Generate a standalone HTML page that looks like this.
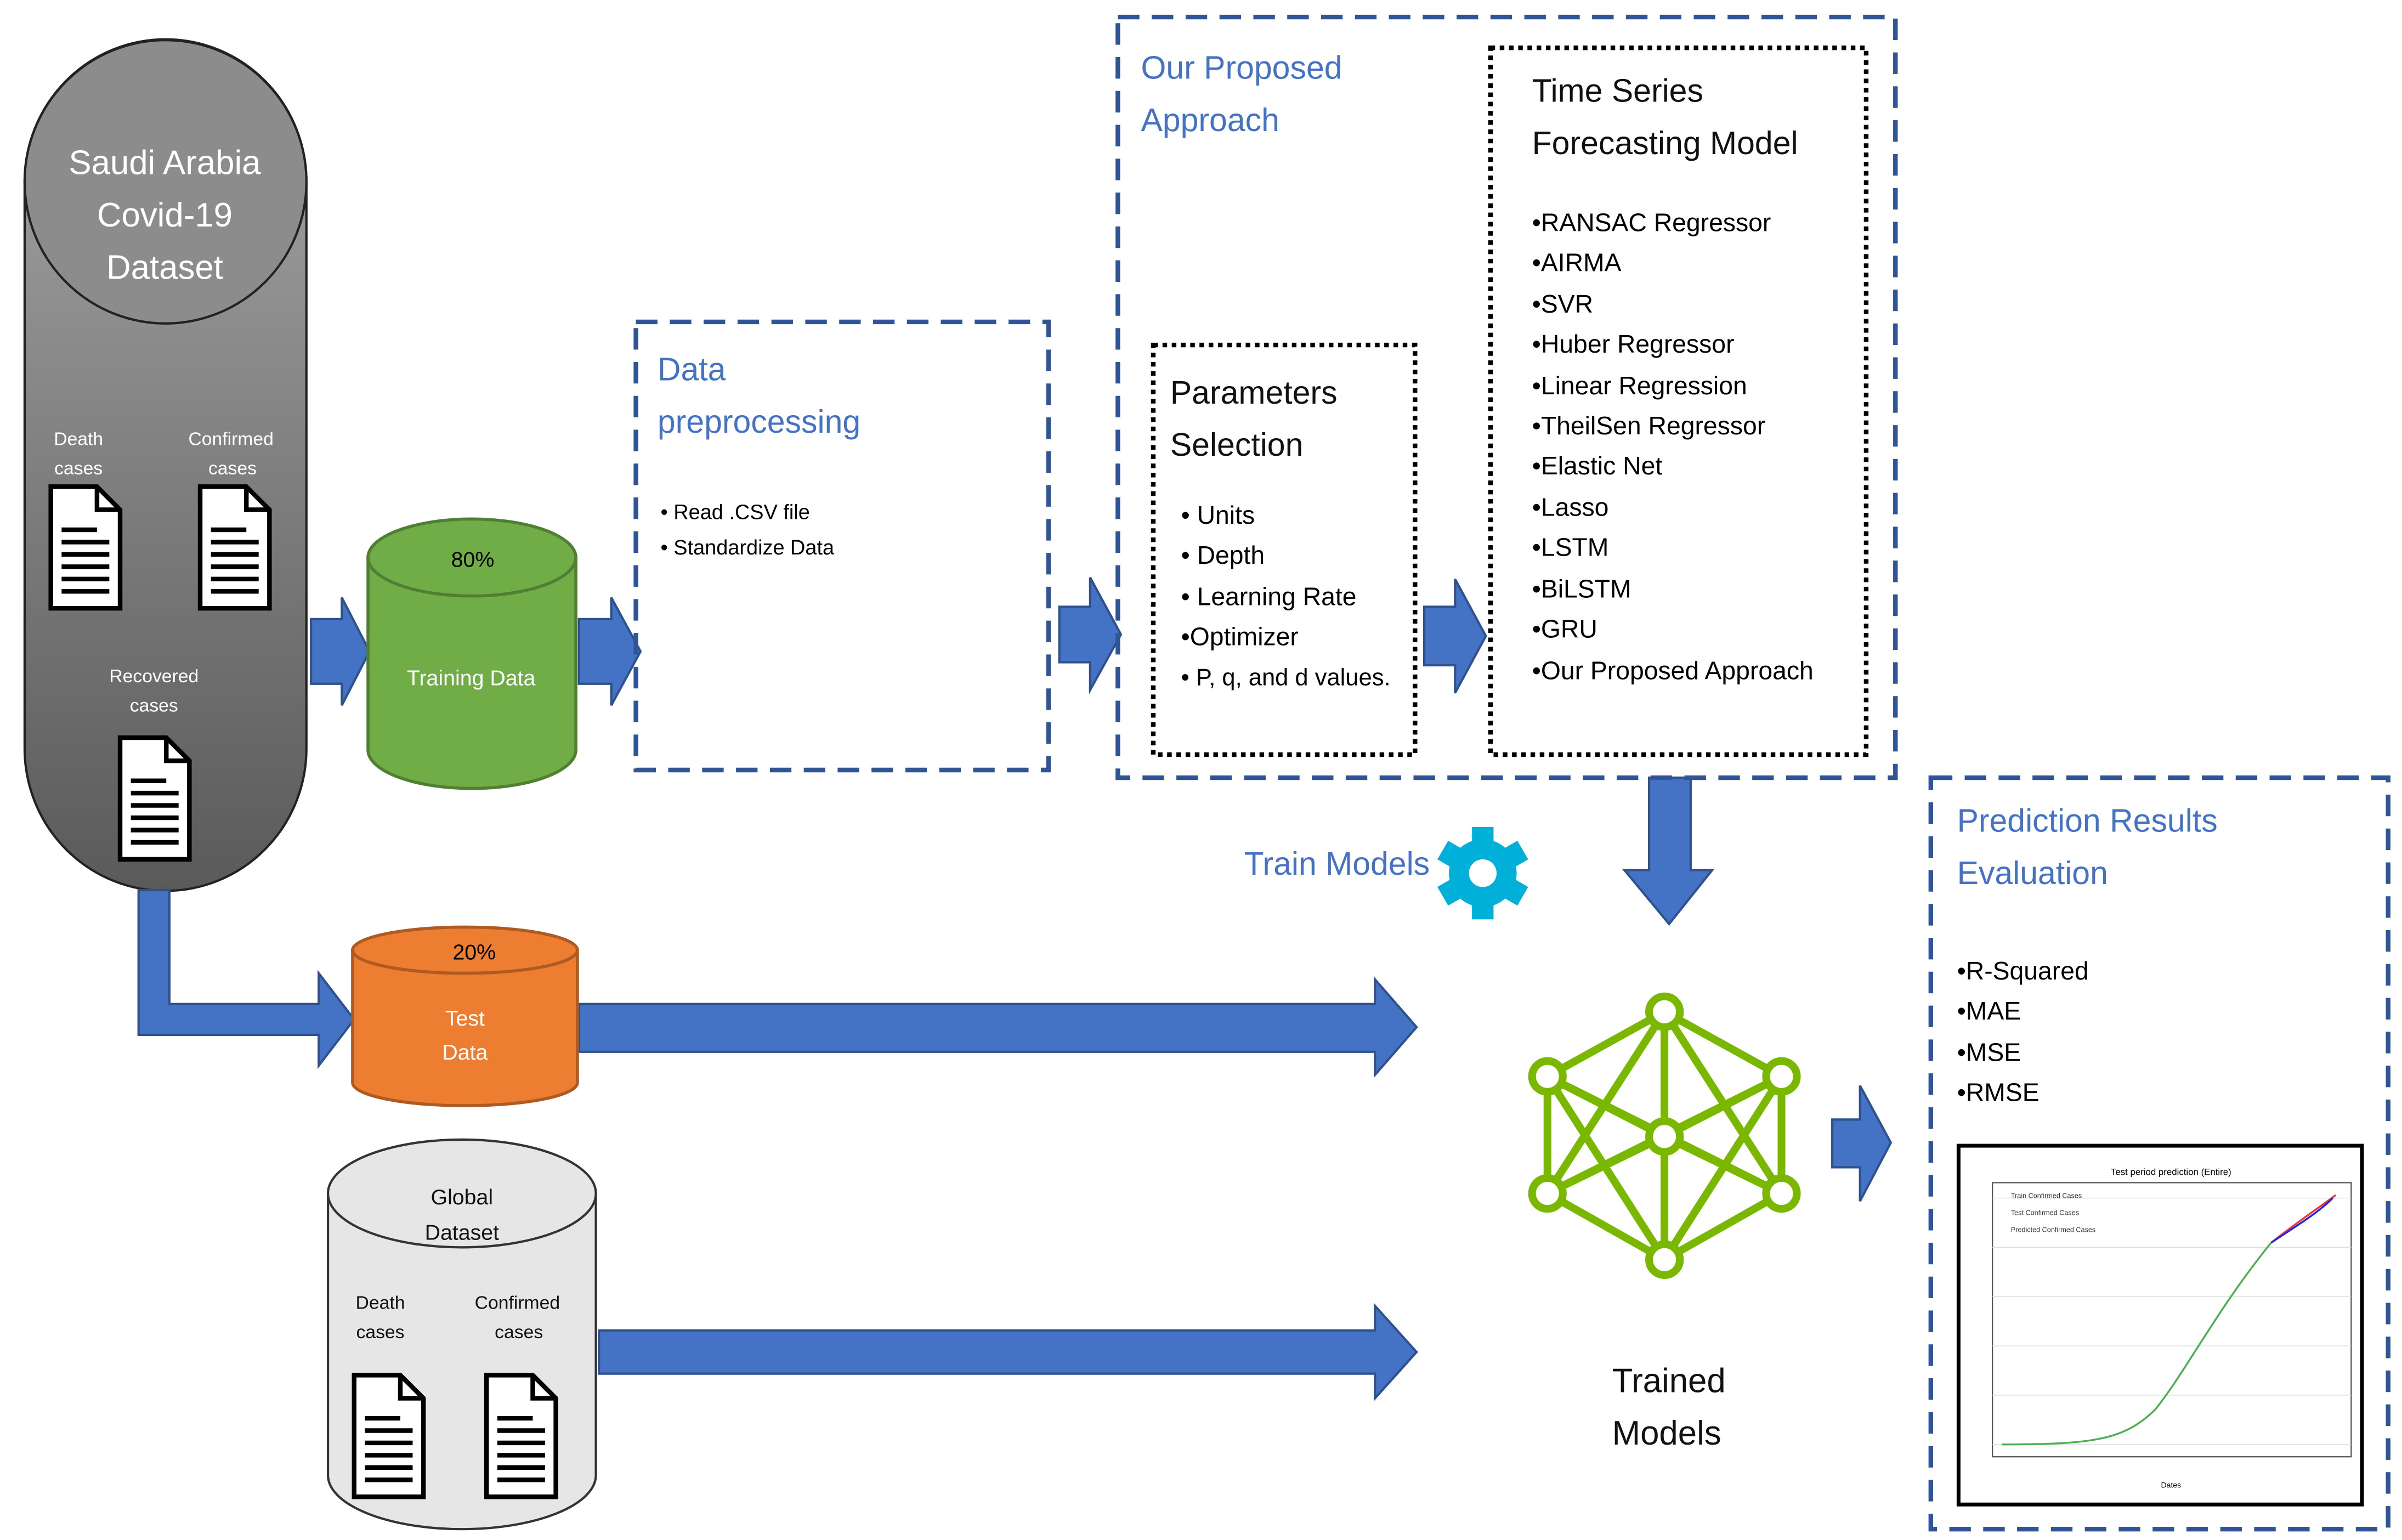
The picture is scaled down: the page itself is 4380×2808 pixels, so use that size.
<!DOCTYPE html>
<html><head><meta charset="utf-8"><style>
html,body{margin:0;padding:0;background:#fff;}
svg{display:block;}
text{font-family:"Liberation Sans Narrow","Liberation Sans",sans-serif;}
</style></head><body>
<svg width="4380" height="2808" viewBox="0 0 1560 1000" xmlns="http://www.w3.org/2000/svg">
<defs>
<linearGradient id="gg" x1="0" y1="0" x2="0" y2="1"><stop offset="0" stop-color="#a6a6a6"/><stop offset="1" stop-color="#5a5a5a"/></linearGradient>
<g id="doc"><path d="M0,0 H30 L45,15 V79 H0 Z" fill="#fff" stroke="#000" stroke-width="3"/><path d="M30,0 V15 H45" fill="none" stroke="#000" stroke-width="3"/>
<g stroke="#000" stroke-width="3"><line x1="7" y1="28" x2="30" y2="28"/><line x1="7" y1="36" x2="38" y2="36"/><line x1="7" y1="44" x2="38" y2="44"/><line x1="7" y1="52" x2="38" y2="52"/><line x1="7" y1="60" x2="38" y2="60"/><line x1="7" y1="68" x2="38" y2="68"/></g></g>
</defs>
<path d="M16,118 A91,92 0 0 1 199,118 V486 A91,92 0 0 1 16,486 Z" fill="url(#gg)" stroke="#222" stroke-width="1.5"/>
<ellipse cx="107.5" cy="118" rx="91.5" ry="92" fill="#8c8c8c" stroke="#222" stroke-width="1.5"/>
<g fill="#fff" font-size="22" text-anchor="middle"><text x="107" y="113">Saudi Arabia</text><text x="107" y="147">Covid-19</text><text x="107" y="181">Dataset</text></g>
<g fill="#fff" font-size="12" text-anchor="middle"><text x="51" y="289">Death</text><text x="51" y="308">cases</text><text x="150" y="289">Confirmed</text><text x="151" y="308">cases</text><text x="100" y="443">Recovered</text><text x="100" y="462">cases</text></g>
<use href="#doc" x="33" y="316"/><use href="#doc" x="130" y="316"/><use href="#doc" x="78" y="479"/>
<g fill="#4472C4" stroke="#2F528F" stroke-width="1.5">
<path d="M202,402 H222 V388 L240,423 L222,458 V444 H202 Z"/>
<path d="M376,402 H397 V388 L416,423 L397,458 V444 H376 Z"/>
<path d="M688,394 H708 V375 L728,412 L708,448 V430 H688 Z"/>
<path d="M925,394 H945 V376 L965,413 L945,450 V432 H925 Z"/>
<path d="M1071,505 H1098 V565 H1112 L1084,600 L1055,565 H1071 Z"/>
<path d="M1190,727 H1208 V705 L1228,742 L1208,780 V758 H1190 Z"/>
<path d="M376,652 H893 V636 L920,667 L893,698 V683 H376 Z"/>
<path d="M389,864 H893 V848 L920,878 L893,908 V892 H389 Z"/>
<path d="M90,578 H110 V652 H207 V632 L230,662 L207,692 V672 H90 Z"/>
</g>
<path d="M239,362 V487 A67.5,25 0 0 0 374,487 V362 Z" fill="#70AD47" stroke="#507E32" stroke-width="2"/>
<ellipse cx="306.5" cy="362" rx="67.5" ry="25" fill="#70AD47" stroke="#507E32" stroke-width="2"/>
<text x="307" y="368" font-size="14" text-anchor="middle">80%</text>
<text x="306" y="445" font-size="14" fill="#fff" text-anchor="middle">Training Data</text>
<path d="M229,617 V703 A73,15 0 0 0 375,703 V617 Z" fill="#ED7D31" stroke="#AE5A21" stroke-width="2"/>
<ellipse cx="302" cy="617" rx="73" ry="15" fill="#ED7D31" stroke="#AE5A21" stroke-width="2"/>
<text x="308" y="623" font-size="14" text-anchor="middle">20%</text>
<text x="302" y="666" font-size="14" fill="#fff" text-anchor="middle">Test</text>
<text x="302" y="688" font-size="14" fill="#fff" text-anchor="middle">Data</text>
<path d="M213,775 V958 A87,35 0 0 0 387,958 V775 Z" fill="#e7e6e6" stroke="#333" stroke-width="1.5"/>
<ellipse cx="300" cy="775" rx="87" ry="35" fill="#e7e6e6" stroke="#333" stroke-width="1.5"/>
<g font-size="14" text-anchor="middle" fill="#111"><text x="300" y="782">Global</text><text x="300" y="805">Dataset</text>
<text x="247" y="850" font-size="12">Death</text><text x="247" y="869" font-size="12">cases</text><text x="336" y="850" font-size="12">Confirmed</text><text x="337" y="869" font-size="12">cases</text></g>
<use href="#doc" x="230" y="893"/><use href="#doc" x="316" y="893"/>
<g fill="none" stroke="#2F5597" stroke-width="3" stroke-dasharray="14,8">
<rect x="413" y="209" width="268" height="291"/>
<rect x="726" y="11" width="505" height="494"/>
<rect x="1254" y="505" width="297" height="488"/>
</g>
<g fill="none" stroke="#000" stroke-width="3" stroke-dasharray="3,3">
<rect x="749" y="224" width="170" height="266"/>
<rect x="968" y="31" width="244" height="459"/>
</g>
<g fill="#4472C4" font-size="21"><text x="427" y="247">Data</text><text x="427" y="281">preprocessing</text>
<text x="741" y="51">Our Proposed</text><text x="741" y="85">Approach</text>
<text x="1271" y="540">Prediction Results</text><text x="1271" y="574">Evaluation</text>
<text x="808" y="568">Train Models</text></g>
<g font-size="13.5" fill="#000"><text x="429" y="337">• Read .CSV file</text><text x="429" y="360">• Standardize Data</text></g>
<g font-size="21" fill="#111"><text x="760" y="262">Parameters</text><text x="760" y="296">Selection</text>
<text x="995" y="66">Time Series</text><text x="995" y="100">Forecasting Model</text>
<text x="1047" y="904" font-size="22">Trained</text><text x="1047" y="938" font-size="22">Models</text></g>
<g font-size="16.5" fill="#000">
<text x="767" y="340">• Units</text><text x="767" y="366">• Depth</text><text x="767" y="393">• Learning Rate</text><text x="767" y="419">•Optimizer</text><text x="767" y="445" font-size="15.5">• P, q, and d values.</text>
<text x="995" y="150">•RANSAC Regressor</text><text x="995" y="176">•AIRMA</text><text x="995" y="203">•SVR</text><text x="995" y="229">•Huber Regressor</text><text x="995" y="256">•Linear Regression</text><text x="995" y="282">•TheilSen Regressor</text><text x="995" y="308">•Elastic Net</text><text x="995" y="335">•Lasso</text><text x="995" y="361">•LSTM</text><text x="995" y="388">•BiLSTM</text><text x="995" y="414">•GRU</text><text x="995" y="441">•Our Proposed  Approach</text>
<text x="1271" y="636">•R-Squared</text><text x="1271" y="662">•MAE</text><text x="1271" y="689">•MSE</text><text x="1271" y="715">•RMSE</text>
</g>
<g transform="translate(963,567)" fill="#00B0D8">
<rect x="-7" y="-30" width="14" height="60"/><rect x="-7" y="-30" width="14" height="60" transform="rotate(60)"/><rect x="-7" y="-30" width="14" height="60" transform="rotate(120)"/>
<circle r="22"/><circle r="9" fill="#fff"/></g>
<g stroke="#7AB800" stroke-width="5" fill="none">
<path d="M1081,657 L1005,699 M1081,657 L1157,699 M1081,657 L1081,738 M1081,657 L1005,775 M1081,657 L1157,775 M1005,699 L1081,738 M1157,699 L1081,738 M1005,699 L1005,775 M1157,699 L1157,775 M1005,699 L1157,775 M1157,699 L1005,775 M1005,775 L1081,818 M1157,775 L1081,818 M1081,738 L1081,818 M1005,699 L1081,818 M1157,699 L1081,818 M1005,775 L1081,738 M1157,775 L1081,738"/>
</g>
<g stroke="#7AB800" stroke-width="5" fill="#fff">
<circle cx="1081" cy="657" r="10"/><circle cx="1005" cy="699" r="10"/><circle cx="1157" cy="699" r="10"/><circle cx="1081" cy="738" r="10"/><circle cx="1005" cy="775" r="10"/><circle cx="1157" cy="775" r="10"/><circle cx="1081" cy="818" r="10"/></g>
<rect x="1272" y="744" width="262" height="233" fill="#fff" stroke="#000" stroke-width="2.5"/>
<rect x="1294" y="768" width="233" height="178" fill="none" stroke="#555" stroke-width="0.8"/>
<g stroke="#ddd" stroke-width="0.5"><line x1="1294" y1="778" x2="1527" y2="778"/><line x1="1294" y1="810" x2="1527" y2="810"/><line x1="1294" y1="842" x2="1527" y2="842"/><line x1="1294" y1="874" x2="1527" y2="874"/><line x1="1294" y1="906" x2="1527" y2="906"/><line x1="1294" y1="938" x2="1527" y2="938"/></g>
<text x="1410" y="763" font-size="6" text-anchor="middle">Test period prediction (Entire)</text>
<text x="1410" y="966" font-size="5" text-anchor="middle">Dates</text>
<path d="M1300,938 C1360,938 1380,935 1400,915 C1420,890 1440,850 1475,807" fill="none" stroke="#4CAF50" stroke-width="1.2"/>
<path d="M1475,807 C1490,795 1505,785 1517,776" fill="none" stroke="#e33" stroke-width="1.2"/>
<path d="M1475,807 C1490,797 1505,788 1515,778" fill="none" stroke="#22d" stroke-width="1.2"/>
<g font-size="4.5" fill="#333"><text x="1306" y="778">Train Confirmed Cases</text><text x="1306" y="789">Test Confirmed Cases</text><text x="1306" y="800">Predicted Confirmed Cases</text></g>
</svg>
</body></html>
